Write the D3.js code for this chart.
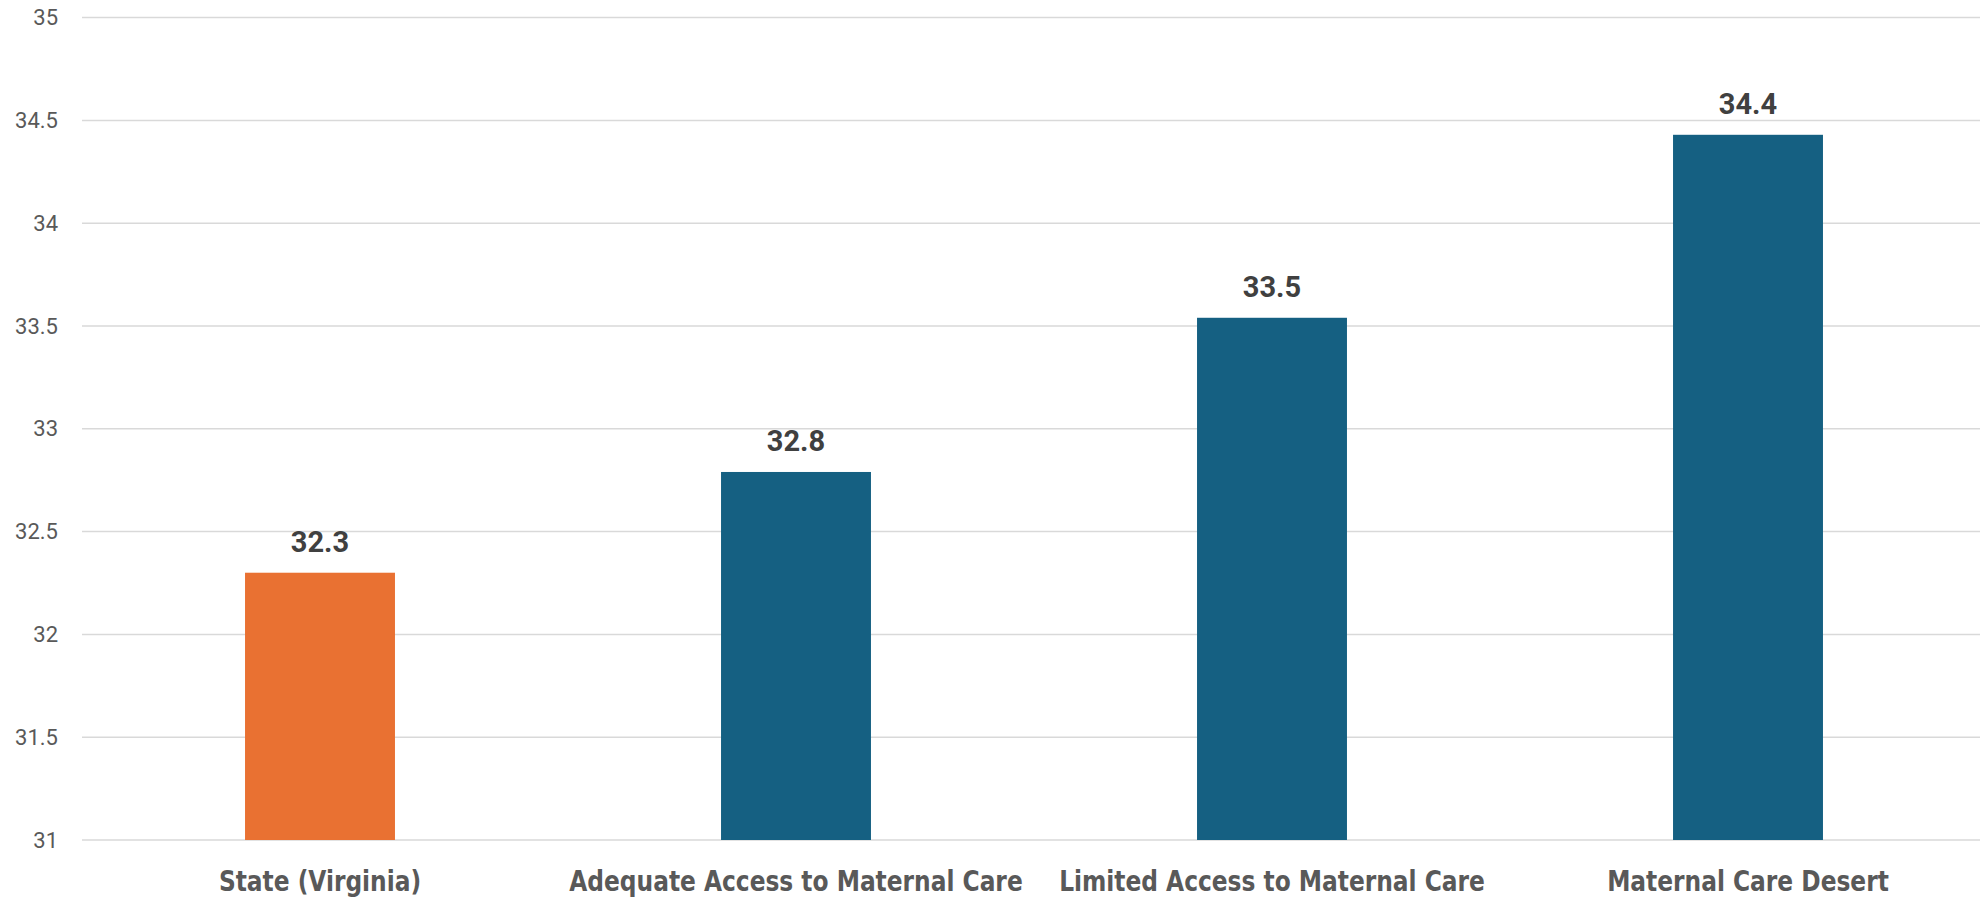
<!DOCTYPE html>
<html>
<head>
<meta charset="utf-8">
<script src="https://cdn.jsdelivr.net/npm/d3@7"></script>
<style>
  body { margin: 0; background: #fff; }
  svg { display: block; }
</style>
</head>
<body>
<svg id="chart"></svg>
<script>
// data
let categories = ["State (Virginia)", "Adequate Access to Maternal Care", "Limited Access to Maternal Care", "Maternal Care Desert"];
let values = [32.3, 32.79, 33.54, 34.43];
let barColors = ["#E97132", "#156082", "#156082", "#156082"];
let yTicks = [31, 31.5, 32, 32.5, 33, 33.5, 34, 34.5, 35];

let width = 1980, height = 898;
let svg = d3.select("#chart")
    .attr("width", width)
    .attr("height", height);

let x = d3.scaleBand()
    .domain(categories)
    .range([82, 1986])
    .paddingInner(0.685)
    .paddingOuter(0.3425);

let y = d3.scaleLinear()
    .domain([31, 35])
    .range([840, 17.6]);

// gridlines
svg.append("g")
    .selectAll("line")
    .data(yTicks)
    .join("line")
    .attr("x1", 82)
    .attr("x2", width)
    .attr("y1", d => y(d))
    .attr("y2", d => y(d))
    .attr("stroke", "#D9D9D9")
    .attr("stroke-width", 1.5);

// y axis labels
let yAxis = svg.append("g")
    .attr("transform", "translate(82,0)")
    .call(d3.axisLeft(y).tickValues(yTicks).tickSize(0).tickPadding(24).tickFormat(d3.format("")));
yAxis.select(".domain").remove();
yAxis.selectAll("text")
    .attr("font-family", "Roboto, 'Liberation Sans', sans-serif")
    .attr("font-size", 22)
    .attr("fill", "#595959");

// bars
svg.append("g")
    .selectAll("rect")
    .data(values)
    .join("rect")
    .attr("x", (d, i) => x(categories[i]))
    .attr("width", x.bandwidth())
    .attr("y", d => y(d))
    .attr("height", d => y(31) - y(d))
    .attr("fill", (d, i) => barColors[i]);

// value labels
svg.append("g")
    .selectAll("text")
    .data(values)
    .join("text")
    .attr("x", (d, i) => x(categories[i]) + x.bandwidth() / 2)
    .attr("y", d => y(d) - 21)
    .attr("text-anchor", "middle")
    .attr("font-family", "Roboto, 'Liberation Sans', sans-serif")
    .attr("font-weight", "bold")
    .attr("font-size", 29)
    .attr("fill", "#404040")
    .text(d => d3.format(".1f")(d));

// category labels (squeezed to mimic the condensed face)
svg.append("g")
    .selectAll("text")
    .data(categories)
    .join("text")
    .attr("transform", d => `translate(${x(d) + x.bandwidth() / 2},891) scale(0.91,1)`)
    .attr("text-anchor", "middle")
    .attr("font-family", "'DejaVu Sans Condensed', 'DejaVu Sans', sans-serif")
    .attr("font-stretch", "condensed")
    .attr("font-weight", "bold")
    .attr("font-size", 28.5)
    .attr("fill", "#595959")
    .text(d => d);
</script>
</body>
</html>
